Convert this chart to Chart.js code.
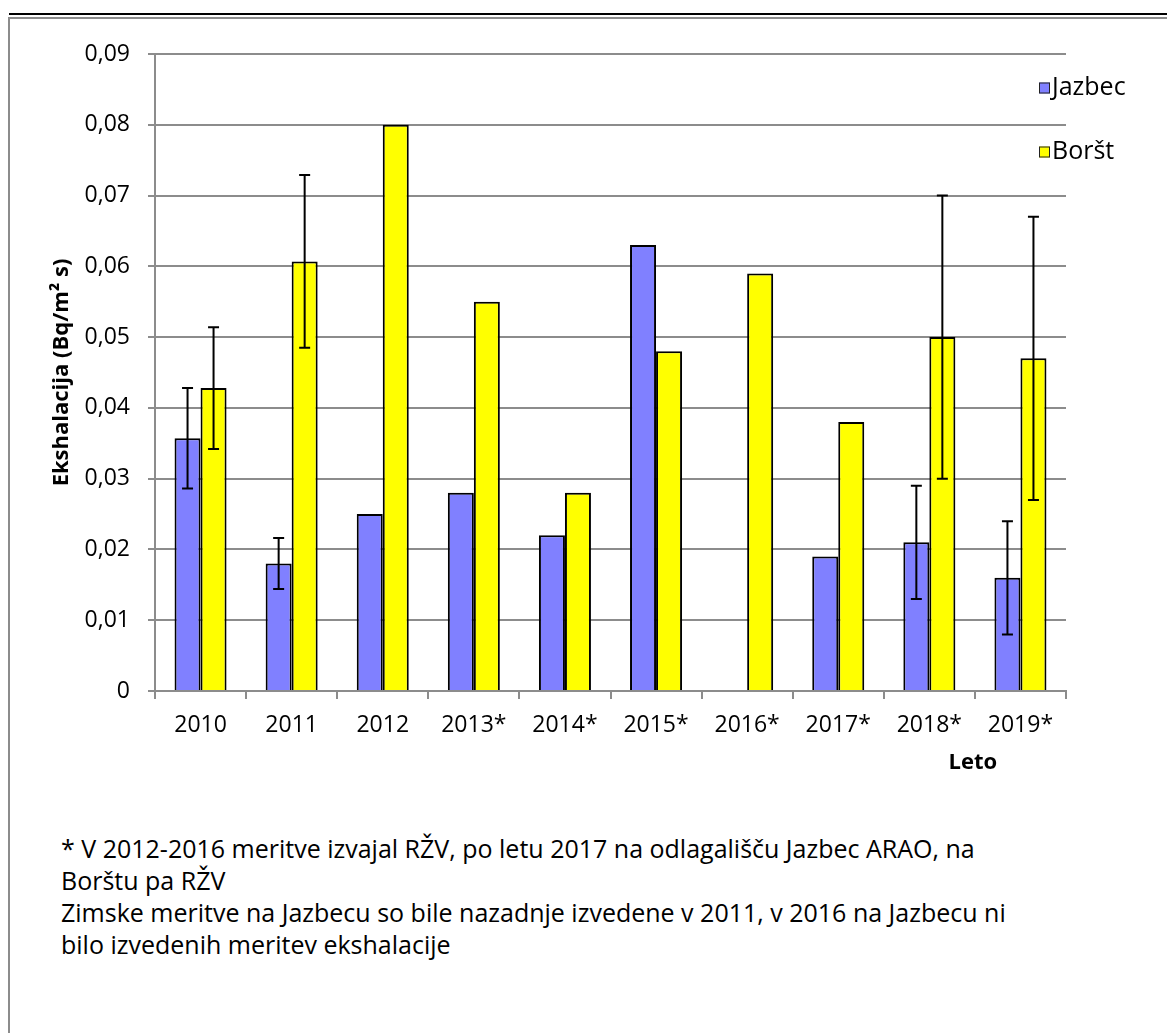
<!DOCTYPE html>
<html>
<head>
<meta charset="utf-8">
<script src="https://cdn.jsdelivr.net/npm/chart.js@4.4.1/dist/chart.umd.min.js"></script>
<style>
  body { margin: 0; background: #fff; font-family: "Open Sans", sans-serif; }
  #wrap { position: relative; width: 1167px; height: 1033px; overflow: hidden; }
  #topline { position: absolute; left: 9px; right: 0; top: 13px; height: 2px; background: #000; }
  #frame { position: absolute; left: 8px; right: -10px; top: 17px; bottom: -10px; border-top: 2px solid #8c8c8c; border-left: 2px solid #8c8c8c; }
  #box { position: absolute; left: 0; top: 0; width: 1167px; height: 800px; }
  #note { position: absolute; left: 61px; top: 832px; font-size: 25px; line-height: 32px; color: #000; white-space: nowrap; }
</style>
</head>
<body>
<div id="wrap">
  <div id="topline"></div>
  <div id="frame"></div>
  <div id="box"><canvas id="ekshPlot"></canvas></div>
  <div id="note">
    * V 2012-2016 meritve izvajal RŽV, po letu 2017 na odlagališču Jazbec ARAO, na<br>
    Borštu pa RŽV<br>
    Zimske meritve na Jazbecu so bile nazadnje izvedene v 2011, v 2016 na Jazbecu ni<br>
    bilo izvedenih meritev ekshalacije
  </div>
</div>
<script>
var years = ["2010", "2011", "2012", "2013*", "2014*", "2015*", "2016*", "2017*", "2018*", "2019*"];
var jazbec = [0.0357, 0.018, 0.025, 0.028, 0.022, 0.063, null, 0.019, 0.021, 0.016];
var borst = [0.0428, 0.0607, 0.080, 0.055, 0.028, 0.048, 0.059, 0.038, 0.050, 0.047];
var jazbecErr = [0.0071, 0.0036, null, null, null, null, null, null, 0.008, 0.008];
var borstErr = [0.0086, 0.0122, null, null, null, null, null, null, 0.020, 0.020];
var yTicks = [0, 0.01, 0.02, 0.03, 0.04, 0.05, 0.06, 0.07, 0.08, 0.09];

var gridGrey = "#8c8c8c";
var tickFont = { family: "Open Sans", size: 23 };

// error bars, legend and the "Leto" label
var extras = {
  id: "extras",
  afterDatasetsDraw: function(chart) {
    var ctx = chart.ctx;
    var yScale = chart.scales.y;
    ctx.save();
    ctx.strokeStyle = "#000";
    ctx.lineWidth = 2;
    chart.data.datasets.forEach(function(ds, i) {
      var meta = chart.getDatasetMeta(i);
      meta.data.forEach(function(bar, j) {
        var e = ds.errors[j];
        if (e == null || ds.data[j] == null) return;
        var top = yScale.getPixelForValue(ds.data[j] + e);
        var bot = yScale.getPixelForValue(ds.data[j] - e);
        ctx.beginPath();
        ctx.moveTo(bar.x, top); ctx.lineTo(bar.x, bot);
        ctx.moveTo(bar.x - 5.5, top); ctx.lineTo(bar.x + 5.5, top);
        ctx.moveTo(bar.x - 5.5, bot); ctx.lineTo(bar.x + 5.5, bot);
        ctx.stroke();
      });
    });
    ctx.restore();
  },
  afterDraw: function(chart) {
    var ctx = chart.ctx;
    var area = chart.chartArea;
    ctx.save();
    ctx.font = "25px 'Open Sans'";
    ctx.textBaseline = "middle";
    ctx.textAlign = "left";
    chart.data.datasets.forEach(function(ds, i) {
      var x = area.right - 27;
      var y = area.top + 34 + i * 64;
      ctx.fillStyle = ds.backgroundColor;
      ctx.fillRect(x, y - 5.5, 11, 11);
      ctx.strokeStyle = "#222";
      ctx.lineWidth = 1;
      ctx.strokeRect(x + 0.5, y - 5, 10, 10);
      ctx.fillStyle = "#000";
      ctx.fillText(ds.label, x + 13, y);
    });
    ctx.font = "bold 22px 'Open Sans'";
    ctx.textAlign = "center";
    ctx.fillText("Leto", chart.scales.x.getPixelForValue(8.5) - 2, area.bottom + 72);
    ctx.restore();
  }
};

new Chart(document.getElementById("ekshPlot"), {
  type: "bar",
  data: {
    labels: years,
    datasets: [
      { label: "Jazbec", data: jazbec, errors: jazbecErr, backgroundColor: "#8080ff", borderColor: "#000", borderWidth: 2 },
      { label: "Boršt", data: borst, errors: borstErr, backgroundColor: "#ffff00", borderColor: "#000", borderWidth: 2 }
    ]
  },
  options: {
    responsive: true,
    maintainAspectRatio: false,
    animation: false,
    layout: { padding: { left: 38, top: 54, right: 101, bottom: 9 } },
    datasets: { bar: { categoryPercentage: 0.571, barPercentage: 1 } },
    plugins: { legend: { display: false }, tooltip: { enabled: false } },
    scales: {
      x: {
        offset: true,
        grid: { offset: true, drawOnChartArea: false, color: gridGrey, lineWidth: 2, tickLength: 8 },
        border: { color: gridGrey, width: 2 },
        ticks: { color: "#000", font: tickFont, padding: 13, maxRotation: 0 },
        afterFit: function(scale) { scale.height = 100; }
      },
      y: {
        min: 0,
        max: 0.09,
        afterBuildTicks: function(scale) {
          scale.ticks = yTicks.map(function(v) { return { value: v }; });
        },
        grid: { color: gridGrey, lineWidth: 2, tickLength: 7 },
        border: { color: gridGrey, width: 2 },
        ticks: {
          color: "#000",
          font: tickFont,
          padding: 18,
          callback: function(v) { return v === 0 ? "0" : v.toFixed(2).replace(".", ","); }
        },
        title: {
          display: true,
          text: "Ekshalacija (Bq/m² s)",
          color: "#000",
          font: { family: "Open Sans", size: 22, weight: "bold" },
          padding: { top: 11, bottom: 0 }
        },
        afterFit: function(scale) { scale.width = 117; }
      }
    }
  },
  plugins: [extras]
});
</script>
</body>
</html>
